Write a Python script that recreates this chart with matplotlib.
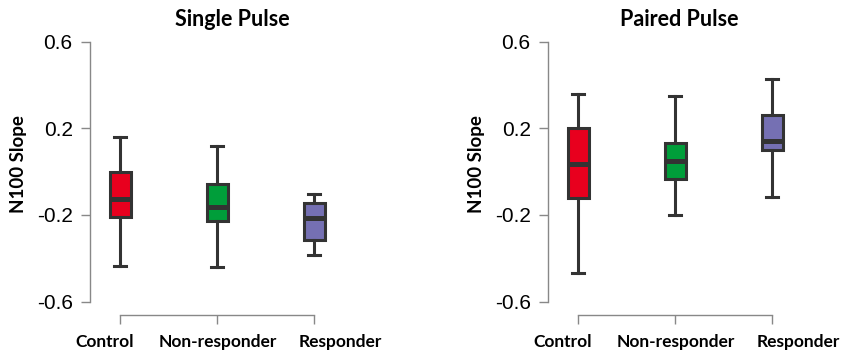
import matplotlib.pyplot as plt

groups = ["Control", "Non-responder", "Responder"]
colors = ["#E8001E", "#009E3A", "#7570B3"]

# five-number summaries per group: (low whisker, q1, median, q3, high whisker)
single_low = [-0.437, -0.441, -0.387]
single_q1 = [-0.211, -0.228, -0.315]
single_med = [-0.125, -0.164, -0.213]
single_q3 = [0.0, -0.056, -0.144]
single_high = [0.16, 0.12, -0.102]

paired_low = [-0.469, -0.20, -0.118]
paired_q1 = [-0.122, -0.033, 0.099]
paired_med = [0.035, 0.047, 0.142]
paired_q3 = [0.20, 0.131, 0.262]
paired_high = [0.36, 0.35, 0.429]

yticks = [-0.6, -0.2, 0.2, 0.6]
# group labels sit a little off their ticks (shift in tick spacings)
label_shift = [-0.16, 0.01, 0.27]
W, H = 842, 355


def stats_for(low, q1, med, q3, high):
    out = []
    for i, g in enumerate(groups):
        out.append(dict(label=g, whislo=low[i], q1=q1[i], med=med[i],
                        q3=q3[i], whishi=high[i], fliers=[]))
    return out


def panel(fig, left_px, title, stats, title_x):
    # axes box in pixels: bottom at the x-axis line, left at the y-axis line
    bottom_px, top_px, right_px = 315, 30, left_px + 330
    ax = fig.add_axes([left_px / W, 1 - bottom_px / H,
                       (right_px - left_px) / W, (bottom_px - top_px) / H])
    ppu = 216.5  # pixels per y unit
    ax.set_ylim(-0.6 - 13.5 / ppu, -0.6 - 13.5 / ppu + (bottom_px - top_px) / ppu)
    ax.set_xlim(1 - 30.3 / 97, 1 - 30.3 / 97 + (right_px - left_px) / 97)

    bp = ax.bxp(stats, positions=[1, 2, 3], widths=0.22, patch_artist=True,
                showfliers=False,
                boxprops=dict(edgecolor="#333333", linewidth=2.2),
                medianprops=dict(color="#333333", linewidth=3.6, solid_capstyle="butt"),
                whiskerprops=dict(color="#333333", linewidth=2.2),
                capprops=dict(color="#333333", linewidth=2.2),
                capwidths=0.12)
    for patch, c in zip(bp["boxes"], colors):
        patch.set_facecolor(c)

    for s in ["top", "right"]:
        ax.spines[s].set_visible(False)
    ax.spines["left"].set_bounds(-0.6, 0.6)
    ax.spines["bottom"].set_bounds(1, 3)
    for s in ["left", "bottom"]:
        ax.spines[s].set_color("#888888")
        ax.spines[s].set_linewidth(1.0)

    ax.set_yticks(yticks)
    ax.set_yticklabels([f"{v:.1f}" for v in yticks], fontsize=15,
                       family="Liberation Sans")
    ax.tick_params(axis="y", length=6.5, width=1.0, color="#888888", pad=6)
    ax.set_xticks([1, 2, 3])
    ax.set_xticklabels([])
    ax.tick_params(axis="x", length=6.5, width=1.0, color="#888888")
    for i, g in enumerate(groups):
        ax.text(i + 1 + label_shift[i], -0.6 - (341.5 - 301) / ppu, g,
                ha="center", va="center", fontsize=12.5, fontweight="bold",
                family="Lato")

    ax.set_ylabel("N100 Slope", fontsize=13.5, fontweight="bold", family="Lato")
    ax.yaxis.set_label_coords(-63 / 330, (bottom_px - 164) / (bottom_px - top_px))
    fig.text(title_x / W, 1 - 19 / H, title, ha="center", va="center",
             fontsize=15.5, fontweight="bold", family="Lato")
    return ax


fig = plt.figure(figsize=(W / 100, H / 100), dpi=100)
panel(fig, 90, "Single Pulse", stats_for(single_low, single_q1, single_med,
                                         single_q3, single_high), 232)
panel(fig, 548, "Paired Pulse", stats_for(paired_low, paired_q1, paired_med,
                                          paired_q3, paired_high), 679)
fig.savefig("out.png", dpi=100)
